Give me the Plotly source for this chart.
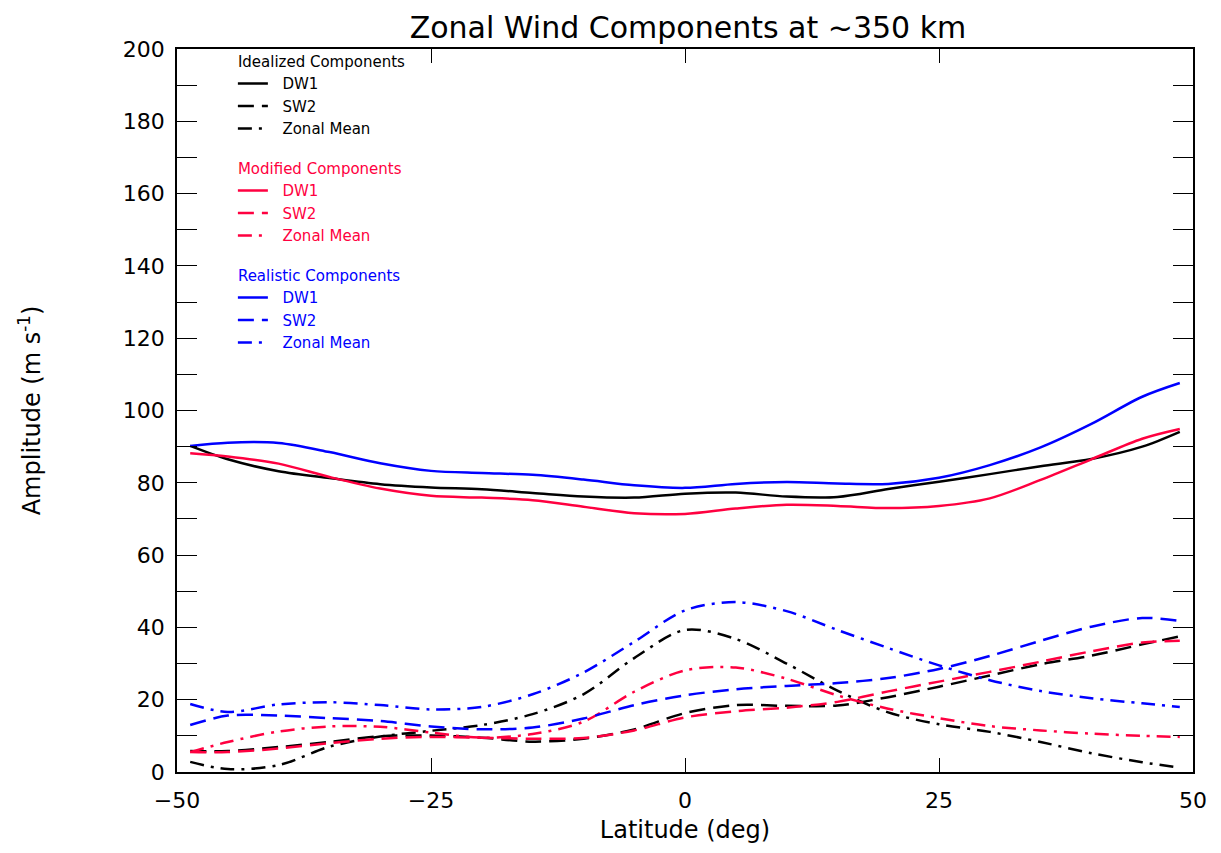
import plotly.graph_objects as go

lat = [-48.7, -45, -40, -35, -30, -25, -20, -15, -10, -5, 0, 5, 10, 15, 20, 25, 30, 35, 40, 45, 48.7]

ideal_dw1 = [90.2, 86.5, 83.2, 81.3, 79.6, 78.7, 78.2, 77.2, 76.2, 75.9, 77.0, 77.3, 76.2, 76.1, 78.3, 80.3, 82.4, 84.6, 86.6, 90.0, 94.1]
ideal_sw2 = [5.8, 5.8, 6.9, 8.3, 9.9, 10.1, 9.5, 8.4, 9.2, 11.8, 16.3, 18.5, 18.3, 18.4, 20.7, 23.6, 26.7, 29.8, 32.2, 35.3, 37.5]
ideal_zm = [2.8, 0.8, 1.9, 7.0, 9.8, 11.4, 13.0, 16.0, 21.5, 31.5, 39.3, 36.8, 30.0, 22.5, 16.5, 13.2, 11.1, 8.3, 5.2, 2.7, 1.2]

mod_dw1 = [88.2, 87.3, 85.3, 81.6, 78.4, 76.4, 75.9, 75.2, 73.4, 71.6, 71.4, 72.9, 73.9, 73.6, 73.0, 73.6, 75.7, 80.8, 86.5, 92.2, 94.9]
mod_sw2 = [5.5, 5.5, 6.5, 8.0, 9.2, 9.7, 9.5, 9.2, 9.4, 11.5, 15.1, 16.8, 17.8, 19.4, 22.3, 25.0, 27.7, 30.5, 33.4, 35.8, 36.3]
mod_zm = [5.5, 8.3, 11.2, 12.6, 12.5, 10.9, 9.5, 10.5, 13.9, 22.2, 28.1, 28.9, 25.8, 21.2, 17.5, 14.9, 12.7, 11.5, 10.6, 10.0, 9.7]

real_dw1 = [90.2, 91.1, 91.0, 88.5, 85.4, 83.3, 82.7, 82.2, 80.9, 79.3, 78.6, 79.7, 80.2, 79.8, 79.7, 81.4, 84.9, 89.8, 96.3, 103.8, 107.6]
real_sw2 = [13.0, 15.6, 15.6, 14.9, 14.1, 12.6, 11.8, 12.3, 14.8, 18.5, 21.2, 22.9, 23.8, 24.6, 26.0, 28.5, 32.1, 36.3, 40.2, 42.6, 41.8]
real_zm = [18.8, 16.6, 18.7, 19.3, 18.5, 17.3, 18.0, 21.5, 27.5, 36.0, 44.7, 47.0, 44.5, 39.3, 34.3, 29.5, 25.4, 22.4, 20.4, 19.0, 18.0]

groups = [
    ("Idealized Components", "#000000", [ideal_dw1, ideal_sw2, ideal_zm]),
    ("Modified Components", "#FF0040", [mod_dw1, mod_sw2, mod_zm]),
    ("Realistic Components", "#0000FF", [real_dw1, real_sw2, real_zm]),
]
names = ["DW1", "SW2", "Zonal Mean"]
dashes = ["solid", "16px,8px", "14px,7px,3px,7px"]

FONT = "DejaVu Sans"
NB = "\u00a0\u00a0"
fig = go.Figure()
for gi, (gname, color, series) in enumerate(groups):
    for ni, (name, dash, vals) in enumerate(zip(names, dashes, series)):
        fig.add_trace(go.Scatter(
            x=lat, y=vals, mode="lines",
            name=f"<span style='color:{color}'>{NB}{name}</span>",
            line=dict(color=color, width=2.5, dash=dash, shape="spline", smoothing=0.9),
            legendgroup=gname,
            legendgrouptitle=dict(text=gname, font=dict(color=color, size=15, family=FONT)),
            legendrank=gi * 10 + ni,
        ))

axis_common = dict(showline=True, linecolor="black", linewidth=1.5, mirror="ticks",
                   ticks="inside", tickcolor="black", showgrid=False, zeroline=False,
                   tickfont=dict(size=22, family=FONT, color="black"))

fig.update_xaxes(range=[-50, 50], tickvals=[-50, -25, 0, 25, 50], ticklen=14, tickwidth=1.2,
                 ticklabelstandoff=8,
                 title=dict(text="Latitude (deg)", font=dict(size=24, family=FONT, color="black"), standoff=9),
                 **axis_common)
fig.update_yaxes(range=[0, 200], dtick=20, ticklen=20, tickwidth=1.2, ticklabelstandoff=6,
                 minor=dict(dtick=10, ticklen=20, ticks="inside", tickcolor="black", tickwidth=1.2),
                 title=dict(text="Amplitude (m s<sup>-1</sup>)", font=dict(size=24, family=FONT, color="black"), standoff=75),
                 **axis_common)

fig.update_layout(
    width=1213, height=845,
    margin=dict(l=169, r=28, t=41, b=81),
    paper_bgcolor="white", plot_bgcolor="white",
    title=dict(text="Zonal Wind Components at ~350 km", x=0.5606, xanchor="center", y=0.977, yanchor="middle",
               font=dict(size=30, family=FONT, color="black")),
    legend=dict(x=0.055, y=1.006, xanchor="left", yanchor="top", bgcolor="rgba(0,0,0,0)",
                font=dict(size=15, family=FONT, color="black"), tracegroupgap=17,
                itemwidth=30, traceorder="grouped"),
    showlegend=True,
)

fig.write_html("out.html")
